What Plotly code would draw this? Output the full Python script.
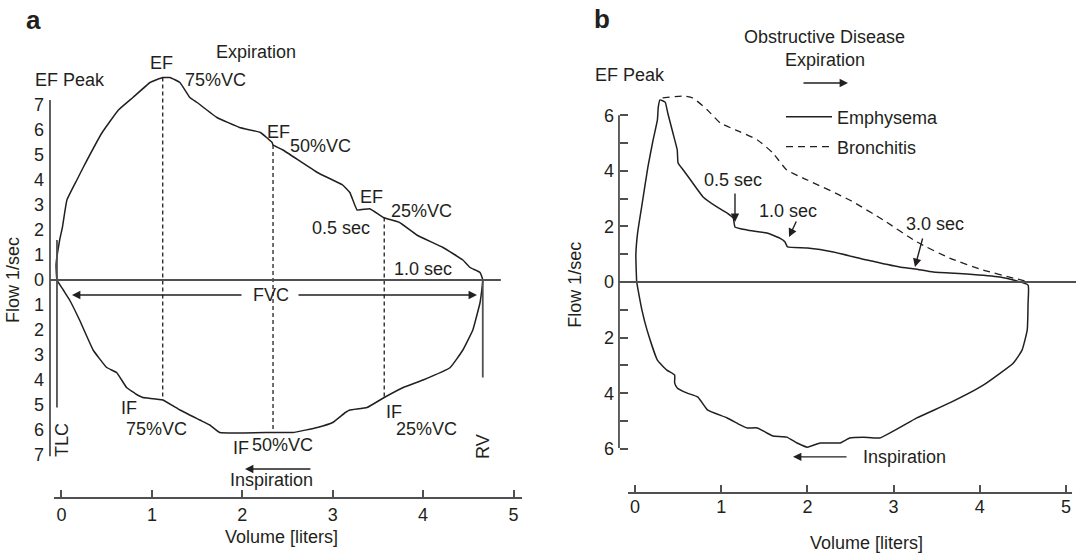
import plotly.graph_objects as go

# ---------------------------------------------------------------------------
#   data (volume in liters, flow in l/sec, inspiration < 0)
# ---------------------------------------------------------------------------
# panel a: normal flow-volume loop, expiration then inspiration back to TLC
loop_a_volume = [-0.05, -0.06, -0.02, 0.01, 0.06, 0.17, 0.24, 0.45, 0.63, 0.79,
                 0.98, 1.12, 1.20, 1.31, 1.42, 1.50, 1.72, 1.97, 2.20, 2.33,
                 2.34, 2.45, 2.83, 3.11, 3.19, 3.27, 3.41, 3.56, 3.74, 3.93,
                 4.22, 4.44, 4.52, 4.63, 4.66,
                 4.63, 4.55, 4.44, 4.30, 4.00, 3.78, 3.57, 3.38, 3.19, 3.14,
                 3.00, 2.83, 2.56, 2.34, 1.75, 1.64, 1.53, 1.31, 1.12, 0.90,
                 0.84, 0.72, 0.61, 0.50, 0.35, 0.20, 0.09, 0.02, -0.05]
loop_a_flow = [0.0, 0.6, 1.6, 2.1, 3.2, 4.0, 4.5, 5.9, 6.8, 7.3,
               7.9, 8.1, 8.1, 7.9, 7.3, 7.1, 6.5, 6.1, 5.9, 5.5,
               5.4, 5.2, 4.3, 3.8, 3.5, 2.8, 2.85, 2.5, 2.3, 1.8,
               1.3, 0.8, 0.5, 0.3, 0.0,
               -0.9, -2.0, -2.8, -3.5, -4.0, -4.3, -4.7, -5.1, -5.2, -5.3,
               -5.7, -5.9, -6.1, -6.1, -6.1, -5.8, -5.6, -5.2, -4.8, -4.7,
               -4.6, -4.3, -3.7, -3.5, -2.8, -1.6, -0.8, -0.4, 0.0]

# EF / IF at 75, 50 and 25 % of vital capacity
vc_volume = [1.12, 2.34, 3.57]
vc_ef = [8.1, 5.4, 2.5]
vc_if = [-4.8, -6.1, -4.7]

tlc_volume, tlc_top, tlc_bottom = -0.05, 1.6, -5.1
rv_volume, rv_bottom = 4.66, -3.9

# panel b: obstructive disease
emphysema_volume = [0.02, 0.01, 0.03, 0.09, 0.15, 0.21, 0.26, 0.27, 0.29, 0.35,
                    0.38, 0.44, 0.49, 0.50, 0.56, 0.67, 0.79, 0.95, 1.07, 1.14,
                    1.16, 1.30, 1.53, 1.68, 1.74, 1.77, 2.00, 2.30, 2.69, 3.07,
                    3.25, 3.46, 3.85, 4.23, 4.39, 4.56,
                    4.56, 4.55, 4.49, 4.39, 4.04, 3.65, 3.27, 2.84, 2.65, 2.49,
                    2.38, 2.15, 2.00, 1.88, 1.76, 1.60, 1.53, 1.42, 1.30, 1.22,
                    1.07, 0.84, 0.73, 0.60, 0.49, 0.46, 0.46, 0.37, 0.26, 0.14,
                    0.08, 0.03, 0.02]
emphysema_flow = [0.0, 0.97, 1.76, 2.95, 4.14, 5.11, 5.83, 6.29, 6.55, 6.47,
                  6.08, 5.36, 4.75, 4.28, 4.03, 3.56, 3.06, 2.70, 2.48, 2.30,
                  1.98, 1.87, 1.76, 1.58, 1.44, 1.26, 1.22, 1.08, 0.79, 0.54,
                  0.47, 0.36, 0.29, 0.18, 0.07, -0.11,
                  -0.76, -1.73, -2.45, -2.91, -3.71, -4.35, -4.89, -5.61, -5.58, -5.61,
                  -5.79, -5.79, -5.94, -5.79, -5.58, -5.54, -5.43, -5.25, -5.25, -5.14,
                  -4.89, -4.60, -4.14, -3.99, -3.81, -3.63, -3.35, -3.17, -2.81, -1.73,
                  -1.0, -0.18, 0.0]

bronchitis_volume = [0.32, 0.56, 0.67, 0.84, 0.99, 1.22, 1.42, 1.60, 1.76, 2.00,
                     2.49, 2.88, 3.27, 3.65, 4.04, 4.39, 4.52]
bronchitis_flow = [6.62, 6.69, 6.62, 6.19, 5.72, 5.40, 5.11, 4.64, 4.03, 3.67,
                   2.95, 2.23, 1.44, 0.86, 0.43, 0.14, 0.04]

volume_ticks = [0, 1, 2, 3, 4, 5]
flow_ticks_a = list(range(-7, 8))
flow_labels_a = [str(abs(v)) for v in flow_ticks_a]
flow_ticks_b = list(range(-6, 7))
flow_labels_b = [str(abs(v)) if v % 2 == 0 else '' for v in flow_ticks_b]

# ---------------------------------------------------------------------------
FONT = 'Liberation Sans, Arial, sans-serif'
INK = '#231f20'
AXIS = '#505050'


def label(fig, text, x, y, panel, size=18, angle=0, bold=False, xanchor='center'):
    xr, yr = ('x', 'y') if panel == 'a' else ('x2', 'y2')
    fig.add_annotation(
        x=x, y=y, xref=xr, yref=yr, text=f'<b>{text}</b>' if bold else text,
        showarrow=False, textangle=angle, xanchor=xanchor, yanchor='middle',
        font=dict(family=FONT, size=size, color=INK),
    )


def arrow(fig, x_head, y_head, x_tail, y_tail, panel):
    xr, yr = ('x', 'y') if panel == 'a' else ('x2', 'y2')
    fig.add_annotation(
        x=x_head, y=y_head, ax=x_tail, ay=y_tail, xref=xr, yref=yr,
        axref=xr, ayref=yr, text='', showarrow=True,
        arrowhead=2, arrowsize=1.2, arrowwidth=1.4, arrowcolor=INK,
    )


fig = go.Figure()

# ----- panel a -----
fig.add_trace(go.Scatter(
    x=loop_a_volume, y=loop_a_flow, mode='lines', xaxis='x', yaxis='y',
    line=dict(color=INK, width=1.5, shape='spline', smoothing=0.3), showlegend=False,
))
dash_x, dash_y = [], []
for v, top, bottom in zip(vc_volume, vc_ef, vc_if):
    dash_x += [v, v, None]
    dash_y += [top, bottom, None]
fig.add_trace(go.Scatter(
    x=dash_x, y=dash_y, mode='lines', xaxis='x', yaxis='y',
    line=dict(color=INK, width=1.3, dash='4px,3px'), showlegend=False,
))
fig.add_trace(go.Scatter(
    x=[tlc_volume, tlc_volume, None, rv_volume, rv_volume],
    y=[tlc_top, tlc_bottom, None, 0, rv_bottom],
    mode='lines', xaxis='x', yaxis='y',
    line=dict(color=AXIS, width=1.8), showlegend=False,
))

# ----- panel b -----
fig.add_trace(go.Scatter(
    x=emphysema_volume, y=emphysema_flow, mode='lines', xaxis='x2', yaxis='y2',
    name='Emphysema', legend='legend',
    line=dict(color=INK, width=1.5, shape='spline', smoothing=0.4),
))
fig.add_trace(go.Scatter(
    x=bronchitis_volume, y=bronchitis_flow, mode='lines', xaxis='x2', yaxis='y2',
    name='Bronchitis', legend='legend2',
    line=dict(color=INK, width=1.3, dash='7px,5px', shape='spline', smoothing=0.5),
))

# axis lines and zero lines
line_style = dict(color=AXIS, width=1.8)
fig.add_shape(type='line', xref='x', yref='y', x0=-0.127, x1=-0.127, y0=7.2, y1=-7.05, line=line_style)
fig.add_shape(type='line', xref='x', yref='y', x0=-0.127, x1=4.86, y0=0, y1=0, line=line_style)
fig.add_shape(type='line', xref='x', yref='y', x0=-0.083, x1=5.094, y0=-8.72, y1=-8.72, line=line_style)
fig.add_shape(type='line', xref='x2', yref='y2', x0=-0.186, x1=-0.186, y0=6.0, y1=-5.97, line=line_style)
fig.add_shape(type='line', xref='x2', yref='y2', x0=-0.186, x1=5.12, y0=0, y1=0, line=line_style)
fig.add_shape(type='line', xref='x2', yref='y2', x0=-0.081, x1=5.07, y0=-7.59, y1=-7.59, line=line_style)

# ----- panel a text -----
label(fig, 'a', -0.315, 10.4, 'a', size=26, bold=True)
label(fig, 'Expiration', 2.151, 9.12, 'a')
label(fig, 'EF Peak', 0.094, 8.0, 'a')
label(fig, 'EF', 1.101, 8.68, 'a')
label(fig, '75%VC', 1.709, 8.0, 'a')
label(fig, 'EF', 2.395, 5.92, 'a')
label(fig, '50%VC', 2.870, 5.36, 'a')
label(fig, 'EF', 3.424, 3.32, 'a')
label(fig, '25%VC', 3.977, 2.76, 'a')
label(fig, '0.5 sec', 3.092, 2.08, 'a')
label(fig, '1.0 sec', 3.999, 0.44, 'a')
label(fig, 'FVC', 2.318, -0.6, 'a')
label(fig, 'IF', 0.747, -5.12, 'a')
label(fig, '75%VC', 1.056, -5.96, 'a')
label(fig, 'IF', 1.986, -6.72, 'a')
label(fig, '50%VC', 2.450, -6.6, 'a')
label(fig, 'IF', 3.678, -5.28, 'a')
label(fig, '25%VC', 4.043, -5.96, 'a')
label(fig, 'Inspiration', 2.318, -8.0, 'a')
label(fig, 'TLC', 0.006, -6.4, 'a', angle=-90)
label(fig, 'RV', 4.663, -6.68, 'a', angle=-90)
label(fig, 'Flow 1/sec', -0.537, 0.0, 'a', angle=-90)
label(fig, 'Volume [liters]', 2.439, -10.28, 'a')
arrow(fig, 0.116, -0.6, 2.008, -0.6, 'a')
arrow(fig, 4.596, -0.6, 2.605, -0.6, 'a')
arrow(fig, 2.03, -7.56, 2.77, -7.56, 'a')

# ----- panel b text -----
label(fig, 'b', -0.383, 9.46, 'b', size=26, bold=True)
label(fig, 'Obstructive Disease', 2.204, 8.81, 'b')
label(fig, 'Expiration', 2.204, 7.99, 'b')
label(fig, 'EF Peak', -0.058, 7.45, 'b')
label(fig, '0.5 sec', 1.137, 3.67, 'b')
label(fig, '1.0 sec', 1.775, 2.55, 'b')
label(fig, '3.0 sec', 3.480, 2.09, 'b')
label(fig, 'Inspiration', 3.132, -6.29, 'b')
label(fig, 'Flow 1/sec', -0.696, -0.1, 'b', angle=-90)
label(fig, 'Volume [liters]', 2.691, -9.39, 'b')
arrow(fig, 2.471, 7.16, 1.937, 7.16, 'b')
arrow(fig, 1.160, 2.16, 1.160, 3.24, 'b')
arrow(fig, 1.787, 1.62, 1.879, 2.23, 'b')
arrow(fig, 3.248, 0.54, 3.341, 1.62, 'b')
arrow(fig, 1.833, -6.29, 2.471, -6.29, 'b')

tick_font = dict(family=FONT, size=18, color=INK)
common = dict(showgrid=False, zeroline=False, showline=False, tickfont=tick_font,
              tickcolor=AXIS, tickwidth=1.8)
legend_style = dict(xanchor='left', yanchor='middle', itemwidth=46,
                    bgcolor='rgba(0,0,0,0)', font=dict(family=FONT, size=18, color=INK))

fig.update_layout(
    width=1076, height=554,
    margin=dict(l=0, r=0, t=0, b=0),
    paper_bgcolor='white', plot_bgcolor='white',
    font=dict(family=FONT, size=18, color=INK),
    xaxis=dict(domain=[0, 540 / 1076], range=[-0.680, 5.293], anchor='free', position=0.1011,
               tickvals=volume_ticks, ticks='inside', ticklen=8, ticklabelstandoff=4, **common),
    yaxis=dict(domain=[0, 1], range=[-10.96, 11.2], anchor='free', position=50 / 1076,
               tickvals=flow_ticks_a, ticktext=flow_labels_a, ticks='', ticklabelstandoff=6,
               **common),
    xaxis2=dict(domain=[545 / 1076, 1], range=[-1.044, 5.116], anchor='free', position=0.1101,
                tickvals=volume_ticks, ticks='inside', ticklen=8, ticklabelstandoff=1, **common),
    yaxis2=dict(domain=[0, 1], range=[-9.784, 10.144], anchor='free', position=619 / 1076,
                tickvals=flow_ticks_b, ticktext=flow_labels_b, ticks='inside', ticklen=8,
                ticklabelstandoff=5, **common),
    legend=dict(x=781 / 1076, y=1 - 117 / 554, **legend_style),
    legend2=dict(x=781 / 1076, y=1 - 147 / 554, **legend_style),
)

# the page body has a default 8px margin; drop it so the figure sits at the window corner
fig.write_html('out.html', config={'displayModeBar': False},
               post_script="document.body.style.margin='0px';")
